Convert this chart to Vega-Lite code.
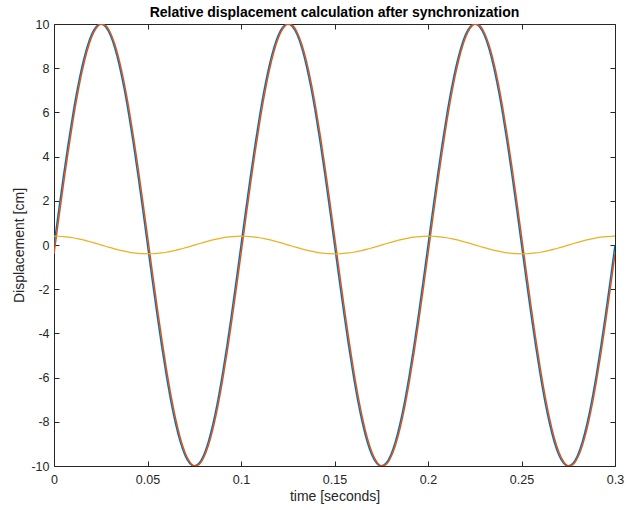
{
  "$schema": "https://vega.github.io/schema/vega-lite/v6.json",
  "width": 561,
  "height": 442,
  "autosize": {"type": "none"},
  "padding": {"left": 54, "top": 24, "right": 12, "bottom": 44},
  "background": "white",
  "title": {"text": "Relative displacement calculation after synchronization", "font": "Liberation Sans", "fontSize": 14, "fontWeight": "bold", "color": "#000000", "offset": -2},
  "config": {
    "view": {"stroke": null},
    "axis": {
      "domainColor": "#262626", "tickColor": "#262626", "labelColor": "#262626", "titleColor": "#262626",
      "labelFont": "Liberation Sans", "titleFont": "Liberation Sans", "labelFontSize": 12.5, "titleFontSize": 14,
      "titleFontWeight": "normal", "grid": false, "tickSize": -5, "domainWidth": 1, "tickWidth": 1, "labelPadding": 10,
      "labelFlush": false, "labelOverlap": false
    }
  },
  "data": {"values": [
    {"t":0,"a":0,"b":-0.4,"c":0.4},
    {"t":0.0025,"a":1.564,"b":1.168,"c":0.396},
    {"t":0.005,"a":3.090,"b":2.707,"c":0.383},
    {"t":0.0075,"a":4.540,"b":4.180,"c":0.360},
    {"t":0.01,"a":5.878,"b":5.550,"c":0.328},
    {"t":0.0125,"a":7.071,"b":6.783,"c":0.289},
    {"t":0.015,"a":8.090,"b":7.849,"c":0.242},
    {"t":0.0175,"a":8.910,"b":8.721,"c":0.189},
    {"t":0.02,"a":9.511,"b":9.379,"c":0.131},
    {"t":0.0225,"a":9.877,"b":9.806,"c":0.071},
    {"t":0.025,"a":10,"b":9.992,"c":0.008},
    {"t":0.0275,"a":9.877,"b":9.932,"c":-0.055},
    {"t":0.03,"a":9.511,"b":9.627,"c":-0.116},
    {"t":0.0325,"a":8.910,"b":9.085,"c":-0.175},
    {"t":0.035,"a":8.090,"b":8.319,"c":-0.229},
    {"t":0.0375,"a":7.071,"b":7.348,"c":-0.277},
    {"t":0.04,"a":5.878,"b":6.197,"c":-0.319},
    {"t":0.0425,"a":4.540,"b":4.893,"c":-0.353},
    {"t":0.045,"a":3.090,"b":3.468,"c":-0.378},
    {"t":0.0475,"a":1.564,"b":1.958,"c":-0.394},
    {"t":0.05,"a":0,"b":0.4,"c":-0.4},
    {"t":0.0525,"a":-1.564,"b":-1.168,"c":-0.396},
    {"t":0.055,"a":-3.090,"b":-2.707,"c":-0.383},
    {"t":0.0575,"a":-4.540,"b":-4.180,"c":-0.360},
    {"t":0.06,"a":-5.878,"b":-5.550,"c":-0.328},
    {"t":0.0625,"a":-7.071,"b":-6.783,"c":-0.289},
    {"t":0.065,"a":-8.090,"b":-7.849,"c":-0.242},
    {"t":0.0675,"a":-8.910,"b":-8.721,"c":-0.189},
    {"t":0.07,"a":-9.511,"b":-9.379,"c":-0.131},
    {"t":0.0725,"a":-9.877,"b":-9.806,"c":-0.071},
    {"t":0.075,"a":-10,"b":-9.992,"c":-0.008},
    {"t":0.0775,"a":-9.877,"b":-9.932,"c":0.055},
    {"t":0.08,"a":-9.511,"b":-9.627,"c":0.116},
    {"t":0.0825,"a":-8.910,"b":-9.085,"c":0.175},
    {"t":0.085,"a":-8.090,"b":-8.319,"c":0.229},
    {"t":0.0875,"a":-7.071,"b":-7.348,"c":0.277},
    {"t":0.09,"a":-5.878,"b":-6.197,"c":0.319},
    {"t":0.0925,"a":-4.540,"b":-4.893,"c":0.353},
    {"t":0.095,"a":-3.090,"b":-3.468,"c":0.378},
    {"t":0.0975,"a":-1.564,"b":-1.958,"c":0.394},
    {"t":0.1,"a":0,"b":-0.4,"c":0.4},
    {"t":0.1025,"a":1.564,"b":1.168,"c":0.396},
    {"t":0.105,"a":3.090,"b":2.707,"c":0.383},
    {"t":0.1075,"a":4.540,"b":4.180,"c":0.360},
    {"t":0.11,"a":5.878,"b":5.550,"c":0.328},
    {"t":0.1125,"a":7.071,"b":6.783,"c":0.289},
    {"t":0.115,"a":8.090,"b":7.849,"c":0.242},
    {"t":0.1175,"a":8.910,"b":8.721,"c":0.189},
    {"t":0.12,"a":9.511,"b":9.379,"c":0.131},
    {"t":0.1225,"a":9.877,"b":9.806,"c":0.071},
    {"t":0.125,"a":10,"b":9.992,"c":0.008},
    {"t":0.1275,"a":9.877,"b":9.932,"c":-0.055},
    {"t":0.13,"a":9.511,"b":9.627,"c":-0.116},
    {"t":0.1325,"a":8.910,"b":9.085,"c":-0.175},
    {"t":0.135,"a":8.090,"b":8.319,"c":-0.229},
    {"t":0.1375,"a":7.071,"b":7.348,"c":-0.277},
    {"t":0.14,"a":5.878,"b":6.197,"c":-0.319},
    {"t":0.1425,"a":4.540,"b":4.893,"c":-0.353},
    {"t":0.145,"a":3.090,"b":3.468,"c":-0.378},
    {"t":0.1475,"a":1.564,"b":1.958,"c":-0.394},
    {"t":0.15,"a":0,"b":0.4,"c":-0.4},
    {"t":0.1525,"a":-1.564,"b":-1.168,"c":-0.396},
    {"t":0.155,"a":-3.090,"b":-2.707,"c":-0.383},
    {"t":0.1575,"a":-4.540,"b":-4.180,"c":-0.360},
    {"t":0.16,"a":-5.878,"b":-5.550,"c":-0.328},
    {"t":0.1625,"a":-7.071,"b":-6.783,"c":-0.289},
    {"t":0.165,"a":-8.090,"b":-7.849,"c":-0.242},
    {"t":0.1675,"a":-8.910,"b":-8.721,"c":-0.189},
    {"t":0.17,"a":-9.511,"b":-9.379,"c":-0.131},
    {"t":0.1725,"a":-9.877,"b":-9.806,"c":-0.071},
    {"t":0.175,"a":-10,"b":-9.992,"c":-0.008},
    {"t":0.1775,"a":-9.877,"b":-9.932,"c":0.055},
    {"t":0.18,"a":-9.511,"b":-9.627,"c":0.116},
    {"t":0.1825,"a":-8.910,"b":-9.085,"c":0.175},
    {"t":0.185,"a":-8.090,"b":-8.319,"c":0.229},
    {"t":0.1875,"a":-7.071,"b":-7.348,"c":0.277},
    {"t":0.19,"a":-5.878,"b":-6.197,"c":0.319},
    {"t":0.1925,"a":-4.540,"b":-4.893,"c":0.353},
    {"t":0.195,"a":-3.090,"b":-3.468,"c":0.378},
    {"t":0.1975,"a":-1.564,"b":-1.958,"c":0.394},
    {"t":0.2,"a":0,"b":-0.4,"c":0.4},
    {"t":0.2025,"a":1.564,"b":1.168,"c":0.396},
    {"t":0.205,"a":3.090,"b":2.707,"c":0.383},
    {"t":0.2075,"a":4.540,"b":4.180,"c":0.360},
    {"t":0.21,"a":5.878,"b":5.550,"c":0.328},
    {"t":0.2125,"a":7.071,"b":6.783,"c":0.289},
    {"t":0.215,"a":8.090,"b":7.849,"c":0.242},
    {"t":0.2175,"a":8.910,"b":8.721,"c":0.189},
    {"t":0.22,"a":9.511,"b":9.379,"c":0.131},
    {"t":0.2225,"a":9.877,"b":9.806,"c":0.071},
    {"t":0.225,"a":10,"b":9.992,"c":0.008},
    {"t":0.2275,"a":9.877,"b":9.932,"c":-0.055},
    {"t":0.23,"a":9.511,"b":9.627,"c":-0.116},
    {"t":0.2325,"a":8.910,"b":9.085,"c":-0.175},
    {"t":0.235,"a":8.090,"b":8.319,"c":-0.229},
    {"t":0.2375,"a":7.071,"b":7.348,"c":-0.277},
    {"t":0.24,"a":5.878,"b":6.197,"c":-0.319},
    {"t":0.2425,"a":4.540,"b":4.893,"c":-0.353},
    {"t":0.245,"a":3.090,"b":3.468,"c":-0.378},
    {"t":0.2475,"a":1.564,"b":1.958,"c":-0.394},
    {"t":0.25,"a":0,"b":0.4,"c":-0.4},
    {"t":0.2525,"a":-1.564,"b":-1.168,"c":-0.396},
    {"t":0.255,"a":-3.090,"b":-2.707,"c":-0.383},
    {"t":0.2575,"a":-4.540,"b":-4.180,"c":-0.360},
    {"t":0.26,"a":-5.878,"b":-5.550,"c":-0.328},
    {"t":0.2625,"a":-7.071,"b":-6.783,"c":-0.289},
    {"t":0.265,"a":-8.090,"b":-7.849,"c":-0.242},
    {"t":0.2675,"a":-8.910,"b":-8.721,"c":-0.189},
    {"t":0.27,"a":-9.511,"b":-9.379,"c":-0.131},
    {"t":0.2725,"a":-9.877,"b":-9.806,"c":-0.071},
    {"t":0.275,"a":-10,"b":-9.992,"c":-0.008},
    {"t":0.2775,"a":-9.877,"b":-9.932,"c":0.055},
    {"t":0.28,"a":-9.511,"b":-9.627,"c":0.116},
    {"t":0.2825,"a":-8.910,"b":-9.085,"c":0.175},
    {"t":0.285,"a":-8.090,"b":-8.319,"c":0.229},
    {"t":0.2875,"a":-7.071,"b":-7.348,"c":0.277},
    {"t":0.29,"a":-5.878,"b":-6.197,"c":0.319},
    {"t":0.2925,"a":-4.540,"b":-4.893,"c":0.353},
    {"t":0.295,"a":-3.090,"b":-3.468,"c":0.378},
    {"t":0.2975,"a":-1.564,"b":-1.958,"c":0.394},
    {"t":0.3,"a":0,"b":-0.4,"c":0.4}
  ]},
  "resolve": {"axis": {"x": "independent", "y": "independent"}},
  "layer": [
    {
      "mark": {"type": "line", "color": "#0072BD", "strokeWidth": 1.5, "interpolate": "monotone", "clip": true},
      "encoding": {
        "x": {"field": "t", "type": "quantitative", "scale": {"domain": [0, 0.3], "nice": false, "zero": false},
              "axis": {"orient": "bottom", "values": [0, 0.05, 0.1, 0.15, 0.2, 0.25, 0.3], "labelExpr": "'' + datum.value", "title": "time [seconds]", "labelPadding": 12, "titlePadding": 4}},
        "y": {"field": "a", "type": "quantitative", "scale": {"domain": [-10, 10], "nice": false, "zero": false},
              "axis": {"orient": "left", "values": [-10, -8, -6, -4, -2, 0, 2, 4, 6, 8, 10], "labelExpr": "'' + datum.value", "title": "Displacement [cm]", "titlePadding": 4}}
      }
    },
    {
      "mark": {"type": "line", "color": "#D95319", "strokeWidth": 1.5, "interpolate": "monotone", "clip": true},
      "encoding": {
        "x": {"field": "t", "type": "quantitative",
              "axis": {"orient": "top", "values": [0, 0.05, 0.1, 0.15, 0.2, 0.25, 0.3], "labels": false, "title": null}},
        "y": {"field": "b", "type": "quantitative",
              "axis": {"orient": "right", "values": [-10, -8, -6, -4, -2, 0, 2, 4, 6, 8, 10], "labels": false, "title": null}}
      }
    },
    {
      "mark": {"type": "line", "color": "#EDB120", "strokeWidth": 1.2, "interpolate": "monotone", "clip": true},
      "encoding": {
        "x": {"field": "t", "type": "quantitative", "axis": null},
        "y": {"field": "c", "type": "quantitative", "axis": null}
      }
    }
  ]
}
